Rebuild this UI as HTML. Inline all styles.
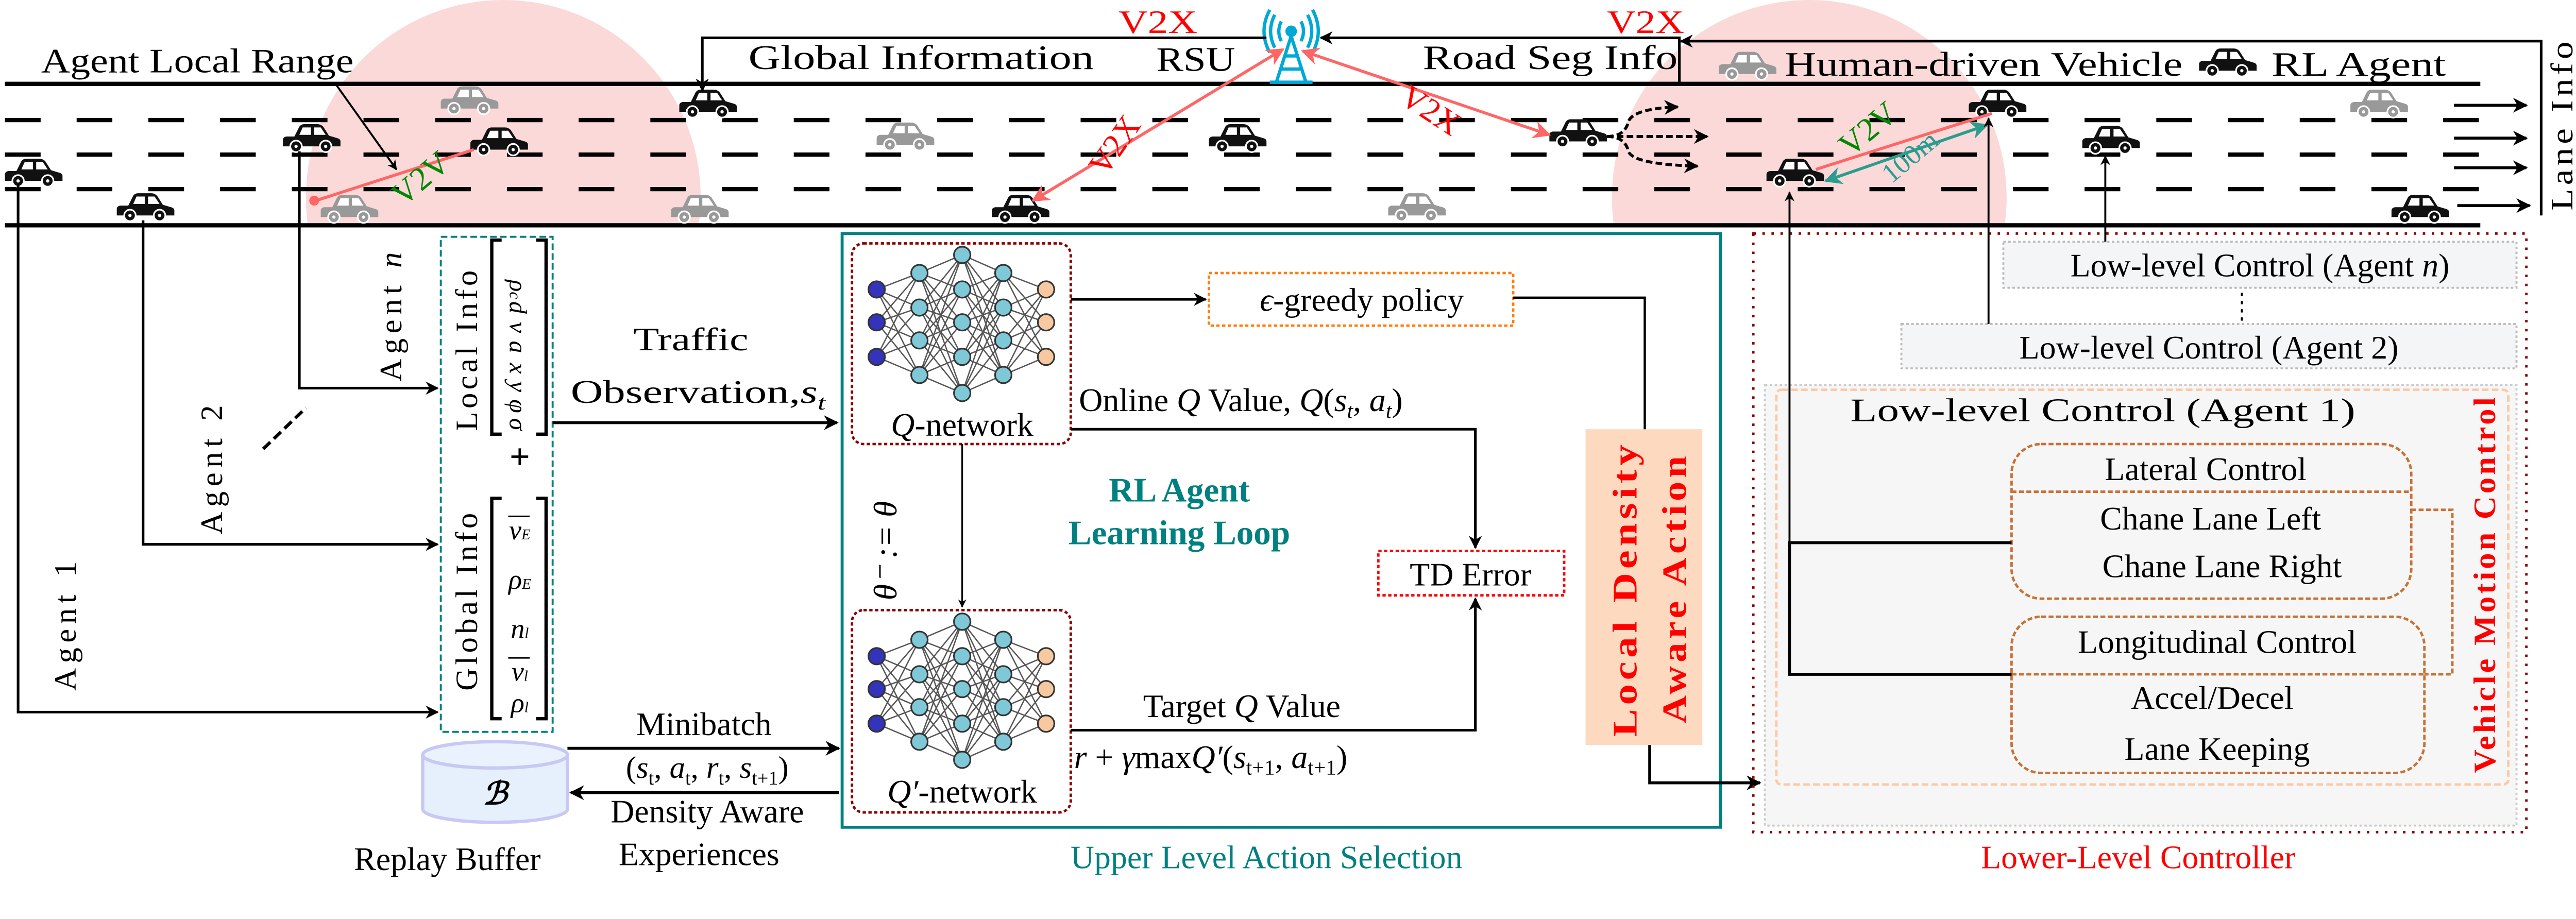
<!DOCTYPE html>
<html><head><meta charset="utf-8"><style>
html,body{margin:0;padding:0;background:#fff;overflow:hidden;}
svg{display:block;}
text{font-family:"Liberation Serif",serif;}
</style></head><body>
<svg width="5191" height="1784" viewBox="0 0 1626 558.8" preserveAspectRatio="none" xmlns="http://www.w3.org/2000/svg">
<defs>
<marker id="ab" viewBox="0 0 10 10" refX="9" refY="5" markerWidth="5" markerHeight="5" orient="auto-start-reverse"><path d="M0,0L10,5L0,10L3,5Z" fill="#000"/></marker>
<marker id="ar" viewBox="0 0 10 10" refX="9" refY="5" markerWidth="6" markerHeight="6" orient="auto-start-reverse"><path d="M0,0L10,5L0,10L3,5Z" fill="#f66"/></marker>
<marker id="at" viewBox="0 0 10 10" refX="9" refY="5" markerWidth="6" markerHeight="6" orient="auto-start-reverse"><path d="M0,0L10,5L0,10L3,5Z" fill="#2a9d8f"/></marker>
<g id="car"><path d="M7,8L10,2Q11,0.5 13,0.5L21,0.5Q23,0.5 24.5,2L28,7.5L33,9Q35,9.5 35,11L35,14L0,14L0,10Q0,8.5 2,8Z"/><path d="M12,2.5L17,2.5L17,7L10,7Z M19,2.5L23,2.5L26,7L19,7Z" fill="#fff"/><circle cx="8" cy="14" r="3.5" stroke="#fff" stroke-width="1"/><circle cx="26" cy="14" r="3.5" stroke="#fff" stroke-width="1"/><circle cx="8" cy="14" r="1" fill="#fff"/><circle cx="26" cy="14" r="1" fill="#fff"/></g>
<clipPath id="road"><rect x="0" y="0" width="1568" height="137"/></clipPath>
<g id="nn">
<path stroke="#555" stroke-width="0.8" fill="none" d="M533 176L559 166M533 176L559 187M533 176L559 207M533 176L559 228M533 196L559 166M533 196L559 187M533 196L559 207M533 196L559 228M533 217L559 166M533 217L559 187M533 217L559 207M533 217L559 228
M559 166L585 155M559 166L585 176M559 166L585 196M559 166L585 217M559 166L585 239M559 187L585 155M559 187L585 176M559 187L585 196M559 187L585 217M559 187L585 239M559 207L585 155M559 207L585 176M559 207L585 196M559 207L585 217M559 207L585 239M559 228L585 155M559 228L585 176M559 228L585 196M559 228L585 217M559 228L585 239
M585 155L610 166M585 155L610 187M585 155L610 207M585 155L610 228M585 176L610 166M585 176L610 187M585 176L610 207M585 176L610 228M585 196L610 166M585 196L610 187M585 196L610 207M585 196L610 228M585 217L610 166M585 217L610 187M585 217L610 207M585 217L610 228M585 239L610 166M585 239L610 187M585 239L610 207M585 239L610 228
M610 166L636 176M610 166L636 196M610 166L636 217M610 187L636 176M610 187L636 196M610 187L636 217M610 207L636 176M610 207L636 196M610 207L636 217M610 228L636 176M610 228L636 196M610 228L636 217"/>
<g stroke="#333" stroke-width="1">
<g fill="#3333bb"><circle cx="533" cy="176" r="5"/><circle cx="533" cy="196" r="5"/><circle cx="533" cy="217" r="5"/></g>
<g fill="#7ec8d8"><circle cx="559" cy="166" r="5"/><circle cx="559" cy="187" r="5"/><circle cx="559" cy="207" r="5"/><circle cx="559" cy="228" r="5"/>
<circle cx="585" cy="155" r="5"/><circle cx="585" cy="176" r="5"/><circle cx="585" cy="196" r="5"/><circle cx="585" cy="217" r="5"/><circle cx="585" cy="239" r="5"/>
<circle cx="610" cy="166" r="5"/><circle cx="610" cy="187" r="5"/><circle cx="610" cy="207" r="5"/><circle cx="610" cy="228" r="5"/></g>
<g fill="#f8c9a0"><circle cx="636" cy="176" r="5"/><circle cx="636" cy="196" r="5"/><circle cx="636" cy="217" r="5"/></g>
</g></g>
</defs>

<g clip-path="url(#road)" fill="#fbd5d5" opacity="0.9">
<circle cx="306" cy="120" r="120"/><circle cx="1100" cy="120" r="120"/>
</g>

<g stroke="#000">
<line x1="3" y1="51" x2="1508" y2="51" stroke-width="2.6"/>
<line x1="3" y1="137" x2="1508" y2="137" stroke-width="2.6"/>
<g stroke-width="2.6" stroke-dasharray="21.7 21.9">
<line x1="3" y1="73" x2="1508" y2="73"/><line x1="3" y1="94" x2="1508" y2="94"/><line x1="3" y1="115" x2="1508" y2="115"/>
</g></g>

<g fill="#999">
<use href="#car" x="268" y="52"/><use href="#car" x="533" y="74"/><use href="#car" x="195" y="118"/><use href="#car" x="408" y="118"/><use href="#car" x="844" y="117"/><use href="#car" x="1429" y="54"/><use href="#car" x="1045" y="31"/>
</g>
<g fill="#111">
<use href="#car" x="413" y="54"/><use href="#car" x="172" y="75"/><use href="#car" x="286" y="77"/><use href="#car" x="735" y="75"/><use href="#car" x="3" y="96"/><use href="#car" x="71" y="117"/><use href="#car" x="603" y="118"/>
<use href="#car" x="942" y="72"/><use href="#car" x="1074" y="96"/><use href="#car" x="1197" y="54"/><use href="#car" x="1266" y="76"/><use href="#car" x="1454" y="118"/><use href="#car" x="1337" y="29"/>
</g>

<g stroke="#00a8d6" fill="none" stroke-width="2">
<path d="M785 22L776 50M785 22L794 50M779 42L791 42M781 34L789 34M772 50L798 50"/>
<circle cx="785" cy="19" r="2.5" fill="#00a8d6"/>
<path d="M779 13Q776 19 779 25M791 13Q794 19 791 25M775 9Q770 19 775 29M795 9Q800 19 795 29M772 6Q765 19 772 32M798 6Q805 19 798 32"/>
</g>

<g stroke="#000" stroke-width="1.6" fill="none">
<polyline points="427,55 427,23 770,23" marker-start="url(#ab)"/>
<polyline points="1545,131 1545,25 1022,25" marker-end="url(#ab)"/>
<polyline points="1021,50 1021,23 803,23" marker-end="url(#ab)"/>
</g>
<text x="25" y="44" font-size="21" textLength="190" lengthAdjust="spacingAndGlyphs">Agent Local Range</text>
<text x="455" y="42" font-size="21" textLength="210" lengthAdjust="spacingAndGlyphs">Global Information</text>
<text x="703" y="43" font-size="21" textLength="48" lengthAdjust="spacingAndGlyphs">RSU</text>
<text x="865" y="42" font-size="21" textLength="155" lengthAdjust="spacingAndGlyphs">Road Seg Info</text>
<text x="1085" y="46" font-size="21" textLength="242" lengthAdjust="spacingAndGlyphs">Human-driven Vehicle</text>
<text x="1381" y="46" font-size="21" textLength="106" lengthAdjust="spacingAndGlyphs">RL Agent</text>
<text x="680" y="20" font-size="20" fill="#f00" textLength="48" lengthAdjust="spacingAndGlyphs">V2X</text>
<text x="977" y="20" font-size="20" fill="#f00" textLength="47" lengthAdjust="spacingAndGlyphs">V2X</text>
<text transform="translate(1564,128) rotate(-90)" font-size="19" letter-spacing="2" textLength="105" lengthAdjust="spacingAndGlyphs">Lane Info</text>

<g stroke="#f66" stroke-width="1.8" fill="none">
<line x1="780" y1="30" x2="628" y2="122" marker-start="url(#ar)" marker-end="url(#ar)"/>
<line x1="792" y1="31" x2="942" y2="82" marker-start="url(#ar)" marker-end="url(#ar)"/>
<line x1="192" y1="122" x2="288" y2="91"/>
<line x1="1104" y1="103" x2="1211" y2="69"/>
</g>
<circle cx="191" cy="122" r="3" fill="#f66"/>
<text transform="translate(672,108) rotate(-55)" font-size="20" fill="#f00">V2X</text>
<text transform="translate(850,62) rotate(33)" font-size="20" fill="#f00">V2X</text>
<text transform="translate(245,126) rotate(-40)" font-size="20" fill="#080">V2V</text>
<text transform="translate(1125,96) rotate(-40)" font-size="20" fill="#080">V2V</text>
<line x1="1110" y1="110" x2="1208" y2="76" stroke="#2a9d8f" stroke-width="1.8" marker-start="url(#at)" marker-end="url(#at)"/>
<text transform="translate(1150,112) rotate(-40)" font-size="17" fill="#2a9d8f">100m</text>
<line x1="204" y1="51" x2="241" y2="103" stroke="#000" stroke-width="1.2" marker-end="url(#ab)"/>

<g stroke="#000" stroke-width="1.8" fill="none" stroke-dasharray="4 2">
<path d="M977 83Q988 83 990 74Q993 66 1020 65" marker-end="url(#ab)"/>
<path d="M977 83L1038 83" marker-end="url(#ab)"/>
<path d="M977 83Q988 83 990 92Q993 100 1032 101" marker-end="url(#ab)"/>
</g>
<g stroke="#000" stroke-width="1.8" fill="none">
<line x1="1492" y1="64" x2="1536" y2="64" marker-end="url(#ab)"/>
<line x1="1492" y1="84" x2="1536" y2="84" marker-end="url(#ab)"/>
<line x1="1492" y1="102" x2="1536" y2="102" marker-end="url(#ab)"/>
<line x1="1494" y1="125" x2="1538" y2="125" marker-end="url(#ab)"/>
</g>

<g stroke="#000" fill="none">
<polyline points="11,112 11,433 266,433" marker-end="url(#ab)" stroke-width="1.6"/>
<polyline points="87,134 87,331 266,331" marker-end="url(#ab)" stroke-width="1.6"/>
<polyline points="182,92 182,236 266,236" marker-end="url(#ab)" stroke-width="1.6"/>
<line x1="160" y1="273" x2="186" y2="248" stroke-dasharray="6 3" stroke-width="2"/>
</g>
<text transform="translate(244,232) rotate(-90)" font-size="19" letter-spacing="3">Agent <tspan font-style="italic">n</tspan></text>
<text transform="translate(135,325) rotate(-90)" font-size="19" letter-spacing="3">Agent 2</text>
<text transform="translate(46,420) rotate(-90)" font-size="19" letter-spacing="3">Agent 1</text>

<rect x="268" y="144" width="68" height="301" fill="none" stroke="#008080" stroke-width="1.2" stroke-dasharray="4 2"/>
<text transform="translate(290,262) rotate(-90)" font-size="19" letter-spacing="2">Local Info</text>
<text transform="translate(290,420) rotate(-90)" font-size="19" letter-spacing="2">Global Info</text>
<g stroke="#000" stroke-width="2" fill="none">
<path d="M305 146L299 146L299 264L305 264M326 146L332 146L332 264L326 264"/>
<path d="M305 303L299 303L299 437L305 437M326 303L332 303L332 437L326 437"/>
</g>
<g font-size="15" font-style="italic" text-anchor="middle">
<text transform="translate(310,176) rotate(90)">ρ<tspan font-size="10">c</tspan></text>
<text transform="translate(310,187) rotate(90)">d</text>
<text transform="translate(310,199) rotate(90)">v</text>
<text transform="translate(310,211) rotate(90)">a</text>
<text transform="translate(310,224) rotate(90)">x</text>
<text transform="translate(310,235) rotate(90)">y</text>
<text transform="translate(310,247) rotate(90)">φ</text>
<text transform="translate(310,258) rotate(90)">σ</text>
</g>
<text x="316" y="285" font-size="22" font-weight="bold" text-anchor="middle">+</text>
<g font-size="17" font-style="italic" text-anchor="middle">
<text x="316" y="328">v<tspan font-size="9">E</tspan></text><line x1="309" y1="314" x2="322" y2="314" stroke="#000"/>
<text x="316" y="358">ρ<tspan font-size="9">E</tspan></text>
<text x="316" y="388">n<tspan font-size="9">l</tspan></text>
<text x="316" y="414">v<tspan font-size="9">l</tspan></text><line x1="309" y1="400" x2="322" y2="400" stroke="#000"/>
<text x="316" y="433">ρ<tspan font-size="9">l</tspan></text>
</g>

<text x="385" y="213" font-size="20" textLength="70" lengthAdjust="spacingAndGlyphs">Traffic</text>
<text x="347" y="245" font-size="20" textLength="155" lengthAdjust="spacingAndGlyphs">Observation,<tspan font-style="italic">s<tspan font-size="13" dy="4">t</tspan></tspan></text>
<line x1="336" y1="257" x2="509" y2="257" stroke="#000" stroke-width="1.8" marker-end="url(#ab)"/>

<rect x="512" y="142" width="534" height="361" fill="none" stroke="#008080" stroke-width="1.8"/>
<text x="770" y="528" font-size="20" fill="#008080" text-anchor="middle">Upper Level Action Selection</text>
<rect x="518" y="148" width="133" height="122" rx="7" fill="none" stroke="#8b0000" stroke-width="1.5" stroke-dasharray="2 1.5"/>
<rect x="518" y="371" width="133" height="123" rx="7" fill="none" stroke="#8b0000" stroke-width="1.5" stroke-dasharray="2 1.5"/>
<use href="#nn"/>
<use href="#nn" y="223"/>
<text x="585" y="265" font-size="20" text-anchor="middle"><tspan font-style="italic">Q</tspan>-network</text>
<text x="585" y="488" font-size="20" text-anchor="middle"><tspan font-style="italic">Q′</tspan>-network</text>
<line x1="651" y1="182" x2="733" y2="182" stroke="#000" stroke-width="1.6" marker-end="url(#ab)"/>
<rect x="735" y="166" width="185" height="32" fill="#fff" stroke="#ff7f0e" stroke-width="1.5" stroke-dasharray="2 1.5"/>
<text x="828" y="189" font-size="20" text-anchor="middle"><tspan font-style="italic">ϵ</tspan>-greedy policy</text>
<polyline points="920,181 1000,181 1000,262" fill="none" stroke="#000" stroke-width="1.4"/>
<text x="656" y="250" font-size="20">Online <tspan font-style="italic">Q</tspan> Value, <tspan font-style="italic">Q</tspan>(<tspan font-style="italic">s<tspan font-size="13" dy="4">t</tspan><tspan dy="-4">, a</tspan><tspan font-size="13" dy="4">t</tspan></tspan><tspan dy="-4">)</tspan></text>
<polyline points="651,261 897,261 897,333" fill="none" stroke="#000" stroke-width="1.6" marker-end="url(#ab)"/>
<rect x="838" y="335" width="113" height="27" fill="#fff" stroke="#f00" stroke-width="1.5" stroke-dasharray="2 1.5"/>
<text x="894" y="356" font-size="20" text-anchor="middle">TD Error</text>
<polyline points="651,444 897,444 897,364" fill="none" stroke="#000" stroke-width="1.6" marker-end="url(#ab)"/>
<text x="695" y="436" font-size="20">Target <tspan font-style="italic">Q</tspan> Value</text>
<text x="653" y="467" font-size="20"><tspan font-style="italic">r</tspan> + <tspan font-style="italic">γ</tspan>max<tspan font-style="italic">Q′</tspan>(<tspan font-style="italic">s</tspan><tspan font-size="13" dy="4">t+1</tspan><tspan dy="-4">, </tspan><tspan font-style="italic">a</tspan><tspan font-size="13" dy="4">t+1</tspan><tspan dy="-4">)</tspan></text>
<line x1="585" y1="270" x2="585" y2="369" stroke="#000" stroke-width="1" marker-end="url(#ab)"/>
<text transform="translate(545,365) rotate(-90)" font-size="20" font-style="italic">θ⁻ := θ</text>
<text x="717" y="305" font-size="21" font-weight="bold" fill="#008080" text-anchor="middle">RL Agent</text>
<text x="717" y="331" font-size="21" font-weight="bold" fill="#008080" text-anchor="middle">Learning Loop</text>
<rect x="964" y="261" width="71" height="192" fill="#fdd9bf"/>
<text transform="translate(995,448) rotate(-90)" font-size="21" font-weight="bold" fill="#f00" letter-spacing="2" textLength="180" lengthAdjust="spacingAndGlyphs">Local Density</text>
<text transform="translate(1025,440) rotate(-90)" font-size="21" font-weight="bold" fill="#f00" letter-spacing="2" textLength="165" lengthAdjust="spacingAndGlyphs">Aware Action</text>
<polyline points="1003,453 1003,476 1070,476" fill="none" stroke="#000" stroke-width="1.8" marker-end="url(#ab)"/>

<path d="M257 459L257 492A44 8 0 0 0 345 492L345 459" fill="#e6f0fd" stroke="#c8c8f5" stroke-width="2"/>
<ellipse cx="301" cy="459" rx="44" ry="8" fill="#eaf2fe" stroke="#c8c8f5" stroke-width="2"/>
<text x="301" y="489" font-size="19" font-weight="bold" font-style="italic" text-anchor="middle">ℬ</text>
<text x="272" y="529" font-size="20" text-anchor="middle">Replay Buffer</text>
<line x1="345" y1="455" x2="510" y2="455" stroke="#000" stroke-width="1.8" marker-end="url(#ab)"/>
<line x1="510" y1="482" x2="347" y2="482" stroke="#000" stroke-width="1.8" marker-end="url(#ab)"/>
<text x="428" y="447" font-size="20" text-anchor="middle">Minibatch</text>
<text x="430" y="473" font-size="19" text-anchor="middle">(<tspan font-style="italic">s</tspan><tspan font-size="12" dy="4">t</tspan><tspan dy="-4">, </tspan><tspan font-style="italic">a</tspan><tspan font-size="12" dy="4">t</tspan><tspan dy="-4">, </tspan><tspan font-style="italic">r</tspan><tspan font-size="12" dy="4">t</tspan><tspan dy="-4">, </tspan><tspan font-style="italic">s</tspan><tspan font-size="12" dy="4">t+1</tspan><tspan dy="-4">)</tspan></text>
<text x="430" y="500" font-size="20" text-anchor="middle">Density Aware</text>
<text x="425" y="526" font-size="20" text-anchor="middle">Experiences</text>

<rect x="1066" y="142" width="470" height="364" fill="none" stroke="#8b0000" stroke-width="1.5" stroke-dasharray="1.5 4"/>
<text x="1300" y="528" font-size="20" fill="#f00" text-anchor="middle">Lower-Level Controller</text>
<rect x="1218" y="147" width="312" height="28" fill="#f3f5f6" stroke="#bbb" stroke-width="1.2" stroke-dasharray="1.5 1.5"/>
<text x="1374" y="168" font-size="20" text-anchor="middle">Low-level Control (Agent <tspan font-style="italic">n</tspan>)</text>
<line x1="1363" y1="178" x2="1363" y2="196" stroke="#000" stroke-width="1.2" stroke-dasharray="2 3"/>
<rect x="1156" y="197" width="374" height="27" fill="#f3f5f6" stroke="#bbb" stroke-width="1.2" stroke-dasharray="1.5 1.5"/>
<text x="1343" y="218" font-size="20" text-anchor="middle">Low-level Control (Agent 2)</text>
<rect x="1073" y="234" width="457" height="268" fill="#f5f6f5" stroke="#ccc" stroke-width="1.2" stroke-dasharray="1.5 1.5"/>
<rect x="1080" y="237" width="445" height="240" rx="3" fill="none" stroke="#fcc9a8" stroke-width="1.5" stroke-dasharray="4 2"/>
<text x="1125" y="256" font-size="20" textLength="307" lengthAdjust="spacingAndGlyphs">Low-level Control (Agent 1)</text>
<g fill="none" stroke="#c87137" stroke-width="1.5" stroke-dasharray="3 1.5">
<rect x="1223" y="270" width="243" height="94" rx="18"/>
<line x1="1223" y1="299" x2="1466" y2="299"/>
<rect x="1223" y="375" width="251" height="95" rx="18"/>
<line x1="1223" y1="410" x2="1474" y2="410"/>
<polyline points="1466,310 1491,310 1491,410 1474,410"/>
</g>
<g font-size="20" text-anchor="middle">
<text x="1341" y="292">Lateral Control</text>
<text x="1344" y="322">Chane Lane Left</text>
<text x="1351" y="351">Chane Lane Right</text>
<text x="1348" y="397">Longitudinal Control</text>
<text x="1345" y="431">Accel/Decel</text>
<text x="1348" y="462">Lane Keeping</text>
</g>
<text transform="translate(1517,470) rotate(-90)" font-size="19" font-weight="bold" fill="#f00" letter-spacing="1.5" textLength="230" lengthAdjust="spacingAndGlyphs">Vehicle Motion Control</text>
<g stroke="#000" fill="none">
<polyline points="1223,330 1088,330 1088,410 1223,410" stroke-width="1.8"/>
<line x1="1088" y1="330" x2="1088" y2="117" stroke-width="1.2" marker-end="url(#ab)"/>
<line x1="1209" y1="197" x2="1209" y2="72" stroke-width="1.2" marker-end="url(#ab)"/>
<line x1="1280" y1="147" x2="1280" y2="95" stroke-width="1.2" marker-end="url(#ab)"/>
</g>
</svg>
</body></html>
